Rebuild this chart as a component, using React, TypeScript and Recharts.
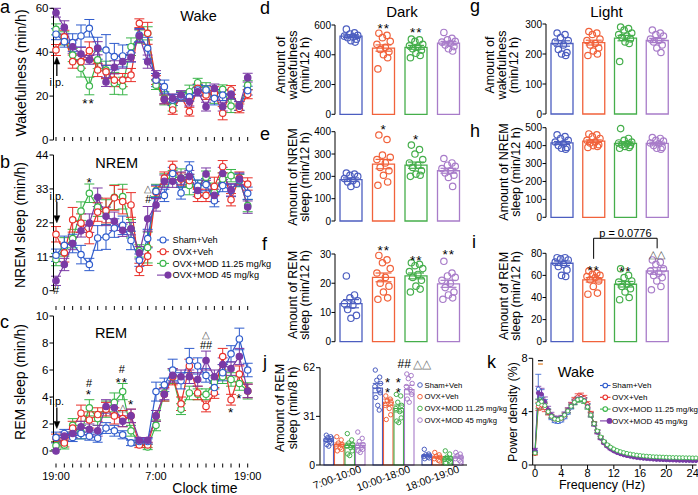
import React from 'react'
import {
  ComposedChart, Line, Bar, Scatter, XAxis, YAxis, ErrorBar,
  ReferenceArea, ReferenceDot, ReferenceLine,
} from 'recharts'

const FONT = '"Liberation Sans", Arial, Helvetica, sans-serif'

const GROUPS = ['Sham+Veh', 'OVX+Veh', 'OVX+MOD 11.25 mg/kg', 'OVX+MOD 45 mg/kg']
const LINE_COLORS = ['#2f5ccd', '#e8302a', '#3ab54a', '#7a3aa5']
const BAR_COLORS = ['#4c5ec0', '#f1623b', '#45ae4b', '#a87cc9']
const LINE_ORDER = [2, 1, 0, 3]

// ---- a-c: hourly time course (hour 0 = 19:00)
const HOURS = [0, 1, 2, 3, 4, 5, 6, 7, 8, 9, 10, 11, 12, 13, 14, 15, 16, 17, 18, 19, 20, 21, 22, 23]
const CLOCK_LABELS: Record<number, string> = { 0: '19:00', 12: '7:00', 23: '19:00' }

const WAKE_SHAM = [48.2, 44.8, 44.4, 47.4, 50.9, 41.8, 41, 38, 38.3, 39.5, 47.8, 41.8, 27.3, 24.3, 18.2, 19.7, 19.7, 22.8, 22.8, 19, 20.5, 20.8, 15.5, 22.5]
const WAKE_OVX = [41, 47, 35.7, 35.7, 40.7, 31.9, 31.1, 27.3, 27.3, 29.6, 53.2, 48.6, 27.3, 18.5, 13.7, 19.7, 12.9, 23.5, 20.5, 21.3, 12.2, 22.8, 14.4, 20.8]
const WAKE_MOD11 = [50.4, 46.3, 38.7, 32.7, 24.6, 36.5, 31.9, 25.8, 24.6, 42.5, 47.1, 48.6, 25, 19, 15.2, 20, 22, 26.1, 23.1, 19.7, 23.1, 15.5, 15.5, 25]
const WAKE_MOD45 = [58, 51.3, 42.5, 39.2, 36.5, 41.8, 26.4, 33.1, 35.7, 37.7, 47.4, 35.7, 29.6, 18.5, 19, 20.5, 17.5, 22, 15.2, 23.5, 15.2, 20.8, 15.5, 28.4]
const WAKE_SHAM_SEM = [2.5, 2.5, 4, 5, 4, 5, 7, 6, 5, 4, 3, 5, 3, 3, 2.5, 2, 2, 2.5, 2, 3, 2.5, 2, 2, 2]
const WAKE_OVX_SEM = [2.5, 3, 3, 3, 4, 3, 3, 3, 3, 3, 2, 5, 2, 2, 2, 2, 2, 2, 2, 3, 3, 2, 2, 2]
const WAKE_MOD11_SEM = [2.5, 3, 3, 4, 4, 4, 4, 5, 4, 4, 3, 3, 2, 3, 2, 2, 3, 2, 3, 3, 2, 3, 2, 2]
const WAKE_MOD45_SEM = [2, 3, 3, 3, 2, 3, 2, 3, 3, 2, 3, 3, 2, 2, 2, 2, 2, 2, 2, 2, 2, 2, 2, 2]

const NREM_SHAM = [11.5, 14.7, 15.3, 11.7, 8.5, 17.1, 17.4, 20.3, 21.2, 16.3, 9.9, 16.9, 32.2, 30.9, 38, 31.7, 39.8, 33.9, 34.4, 29.2, 34.1, 32.5, 35.9, 31.6]
const NREM_OVX = [18.3, 12.3, 23, 21.9, 18.2, 25.5, 26, 30.1, 28.9, 27.8, 6.9, 11.2, 31.9, 36.5, 40, 36.2, 35.7, 30.9, 30.9, 33.8, 40.2, 29.5, 36.5, 34.6]
const NREM_MOD11 = [10.1, 14.2, 16.9, 25.8, 31.6, 27.1, 25.5, 30.3, 30.5, 20.1, 12.9, 14, 32.5, 35.9, 37, 36.5, 34.1, 33.8, 36.8, 31.9, 36.2, 37.3, 35.7, 27.6]
const NREM_MOD45 = [3.2, 8.5, 15.3, 19.4, 21.9, 30.3, 24.1, 22.5, 19.6, 20.1, 12.3, 23.3, 27.8, 35.5, 35.5, 36.5, 37, 32.5, 37.8, 30.9, 38, 32.7, 36.2, 27.1]
const NREM_SHAM_SEM = [2, 3, 3, 3, 2, 4, 4, 3, 3, 3, 2, 3, 2, 2, 2, 2, 2, 2, 2, 2, 2, 2, 2, 2]
const NREM_OVX_SEM = [2.5, 3, 4, 3, 3, 3, 4, 4, 4, 4, 2, 3, 2, 2, 2, 2, 2, 2, 2, 3, 2, 2, 2, 2]
const NREM_MOD11_SEM = [2, 3, 3, 3, 3, 3, 4, 4, 4, 3, 2, 5, 2, 2, 2, 3, 3, 2, 2, 3, 2, 2, 2, 2]
const NREM_MOD45_SEM = [1.5, 2, 2, 2, 3, 3, 3, 3, 2, 2, 2, 4, 2, 2, 2, 2, 2, 2, 2, 2, 2, 2, 2, 2]

const REM_SHAM = [1.0, 1.3, 1.0, 1.3, 1.1, 0.95, 1.7, 1.5, 1.2, 0.6, 0.7, 0.7, 4.4, 4.9, 6.0, 5.2, 6.7, 6.3, 5.6, 4.7, 5.8, 7.2, 8.3, 6.0]
const REM_OVX = [0.95, 0.6, 1.7, 2.8, 2.3, 2.7, 3.1, 2.6, 2.4, 2.6, 0.45, 0.45, 2.6, 4.2, 5.5, 3.5, 6.3, 4.3, 3.3, 4.3, 7.0, 3.8, 5.7, 4.45]
const REM_MOD11 = [0.4, 0.45, 1.9, 1.4, 3.2, 2.4, 3.1, 3.6, 4.4, 1.5, 0.6, 0.3, 1.9, 4.3, 5.5, 3.1, 4.3, 4.2, 4.2, 5.1, 5.5, 5.3, 5.0, 4.45]
const REM_MOD45 = [0, 1.1, 1.3, 1.8, 1.6, 1.5, 3.3, 3.2, 2.2, 2.6, 0.8, 0.8, 2.6, 4.2, 5.6, 5.5, 5.5, 5.3, 6.7, 5.5, 6.4, 6.1, 7.0, 4.45]
const REM_SHAM_SEM = [0.4, 0.3, 0.3, 0.4, 0.3, 0.3, 0.4, 0.4, 0.3, 0.2, 0.2, 0.2, 0.7, 0.5, 0.8, 0.6, 0.9, 0.6, 0.5, 0.5, 0.6, 0.6, 0.8, 0.5]
const REM_OVX_SEM = [0.3, 0.3, 0.5, 0.6, 0.6, 0.5, 0.5, 0.6, 0.6, 0.5, 0.2, 0.2, 0.4, 0.5, 0.6, 0.5, 0.5, 0.5, 0.4, 0.4, 0.6, 0.4, 0.6, 0.5]
const REM_MOD11_SEM = [0.3, 0.3, 0.5, 0.5, 0.6, 0.5, 0.6, 0.7, 0.6, 0.4, 0.2, 0.2, 0.4, 0.6, 0.5, 0.4, 0.5, 0.4, 0.4, 0.5, 0.5, 0.5, 0.5, 0.6]
const REM_MOD45_SEM = [0, 0.3, 0.3, 0.4, 0.4, 0.4, 0.5, 0.5, 0.4, 0.5, 0.2, 0.2, 0.4, 0.4, 0.5, 0.5, 0.5, 0.5, 0.7, 0.5, 0.5, 0.5, 0.6, 0.5]

type NoteT = { x: number; y: number; t: string; arrow?: 'up' | 'down'; color?: string; size?: number }

const WAKE_NOTES: NoteT[] = [
  { x: 3.9, y: 18.2, t: '**' },
  { x: 0.1, y: 26.4, t: 'i.p.', arrow: 'up' },
]
const NREM_NOTES: NoteT[] = [
  { x: 4.05, y: 36.2, t: '*' },
  { x: 11.08, y: 33.2, t: '△', color: '#555', size: 10 },
  { x: 11.08, y: 29.6, t: '#' },
  { x: 0, y: 0.3, t: '#' },
  { x: 0.1, y: 30.8, t: 'i.p.', arrow: 'down' },
]
const REM_NOTES: NoteT[] = [
  { x: 3.96, y: 5.07, t: '#' },
  { x: 3.96, y: 4.4, t: '*' },
  { x: 7.9, y: 6.1, t: '#' },
  { x: 7.9, y: 5.3, t: '**' },
  { x: 8.0, y: 3.2, t: '△', color: '#555', size: 10 },
  { x: 9.0, y: 3.67, t: '*' },
  { x: 18.0, y: 8.65, t: '△', color: '#555', size: 10 },
  { x: 18.0, y: 7.85, t: '##' },
  { x: 21.0, y: 3.07, t: '*' },
  { x: 22.0, y: 4.1, t: '*' },
  { x: 0.1, y: 3.67, t: 'i.p.', arrow: 'down' },
]

// ---- d-i: 12 h totals (bar = mean, dots = animals)
const D_MEAN = [525, 445, 450, 478]
const D_SEM = [9, 21, 13, 12]
const D_DOTS = [
  [572, 548, 540, 530, 525, 520, 515, 505, 495, 485],
  [545, 530, 515, 490, 470, 450, 435, 420, 400, 380, 305],
  [505, 500, 490, 470, 460, 450, 440, 430, 410, 395, 380],
  [550, 510, 500, 490, 485, 475, 465, 455, 440, 425],
]
const D_NOTES: NoteT[] = [{ x: 1, y: 598, t: '**' }, { x: 2, y: 570, t: '**' }]

const E_MEAN = [185, 255, 250, 225]
const E_SEM = [8, 21, 14, 11]
const E_DOTS = [
  [215, 210, 205, 200, 190, 180, 175, 165, 155],
  [385, 365, 295, 285, 275, 260, 240, 225, 205, 175, 160],
  [340, 320, 300, 275, 260, 250, 240, 225, 210, 205, 200],
  [280, 260, 250, 245, 235, 225, 215, 205, 195, 155],
]
const E_NOTES: NoteT[] = [{ x: 1, y: 423, t: '*' }, { x: 2, y: 380, t: '*' }]

const F_MEAN = [13, 22, 22.5, 19.8]
const F_SEM = [1.4, 1.5, 1.0, 1.2]
const F_DOTS = [
  [22.5, 16, 15, 14, 13, 12.5, 11, 9, 8],
  [29.5, 28, 27, 25, 23.5, 22, 20, 19, 17, 15, 14.5],
  [27, 26.5, 26, 25, 24, 23, 22, 21, 19, 18, 17],
  [27.5, 23.5, 22.5, 22, 21, 20, 18.5, 17, 16, 15, 14.5],
]
const F_NOTES: NoteT[] = [{ x: 1, y: 32.3, t: '**' }, { x: 2, y: 28.9, t: '**' }, { x: 3, y: 30.8, t: '**' }]

const G_MEAN = [235, 238, 253, 245]
const G_SEM = [9, 8, 9, 7]
const G_DOTS = [
  [270, 265, 255, 245, 240, 230, 215, 205, 200, 195],
  [275, 270, 265, 250, 245, 235, 230, 220, 210, 200, 195],
  [290, 285, 280, 270, 265, 260, 255, 250, 240, 235, 175],
  [280, 270, 265, 260, 250, 245, 240, 230, 220, 205],
]

const H_MEAN = [415, 425, 412, 412]
const H_SEM = [8, 7, 9, 7]
const H_DOTS = [
  [460, 450, 440, 430, 420, 410, 400, 390, 385, 380],
  [465, 460, 450, 440, 430, 420, 415, 405, 400, 395, 390],
  [495, 440, 430, 420, 415, 410, 405, 400, 395, 390, 385],
  [445, 440, 430, 425, 415, 410, 400, 390, 385, 380],
]

const I_MEAN = [71, 56, 52, 64]
const I_SEM = [2, 2, 2.5, 3]
const I_DOTS = [
  [76, 76, 75, 74, 72, 70, 68, 65, 60, 59],
  [64, 62, 61, 60, 59, 58, 56, 55, 50, 44, 43],
  [66, 60, 58, 55, 54, 52, 50, 48, 45, 40, 38],
  [74, 72, 70, 66, 64, 62, 60, 58, 55, 50, 47],
]
const I_NOTES: NoteT[] = [
  { x: 1, y: 67.8, t: '**' },
  { x: 2, y: 66.7, t: '**' },
  { x: 3, y: 79.4, t: '△△', color: '#555' },
  { x: 2, y: 98.6, t: 'p = 0.0776' },
]
const I_BRACKET = { from: 1, to: 3, top: 93.6, fromLow: 75, toLow: 84.5 }

// horizontal spread of animal dots inside a bar (category units)
const JITTER = [-0.15, 0.1, -0.04, 0.2, -0.21, 0.05, -0.11, 0.16, -0.01, 0.12, -0.18]

// ---- j: REM by light-phase window
const J_CATS = ['7:00-10:00', '10:00-18:00', '18:00-19:00']
const J_MEAN_SHAM = [16, 49, 6]
const J_MEAN_OVX = [13, 40, 5]
const J_MEAN_MOD11 = [12.5, 36, 4.5]
const J_MEAN_MOD45 = [12.5, 48, 5]
const J_SEM_SHAM = [1.0, 3.0, 0.6]
const J_SEM_OVX = [1.0, 2.0, 0.6]
const J_SEM_MOD11 = [1.4, 2.2, 0.9]
const J_SEM_MOD45 = [1.4, 2.8, 0.7]
const J_DOTS_SHAM = [[19, 18, 17.5, 17, 16, 15, 14, 13, 12], [60.5, 56, 54, 52, 50, 48, 46, 43, 38, 35], [10, 7, 6.5, 6, 5.5, 5, 4.5, 4]]
const J_DOTS_OVX = [[18, 16, 14, 13, 12, 11, 10, 9], [44, 42, 41, 40, 38, 36, 32, 29], [8, 6.5, 5.5, 5, 4, 3, 2.5]]
const J_DOTS_MOD11 = [[20, 16, 14, 13, 12, 11, 9, 7, 6], [45, 44, 40, 38, 36, 34, 30, 28, 27], [9, 7, 5, 4, 3.5, 3, 2, 1.5]]
const J_DOTS_MOD45 = [[21, 17, 15, 13, 12, 11, 10, 9, 8], [58, 57, 55, 52, 50, 48, 45, 42, 40], [8, 7, 6, 5, 4, 3, 2]]
const J_JITTER = [-0.05, 0.04, -0.02, 0.06, -0.06, 0.02, 0.05, -0.04, 0, 0.03]
const J_NOTES: NoteT[] = [
  { x: 0.89, y: 54.5, t: '*', size: 13 },
  { x: 0.89, y: 47.9, t: '*', size: 13 },
  { x: 1.11, y: 54.5, t: '*', size: 13 },
  { x: 1.11, y: 47.9, t: '*', size: 13 },
  { x: 1.22, y: 64.4, t: '##', size: 12 },
  { x: 1.59, y: 64.4, t: '△△', color: '#777', size: 12 },
]
const J_BAR = 9.5
const J_GAP = 1
const J_BAND = 49

// ---- k: wake EEG power spectrum
const F_HZ = [0, 0.5, 1, 1.5, 2, 2.5, 3, 3.5, 4, 4.5, 5, 5.5, 6, 6.5, 7, 7.5, 8, 8.5, 9, 9.5, 10, 10.5, 11, 11.5, 12, 12.5, 13, 13.5, 14, 14.5, 15, 15.5, 16, 16.5, 17, 17.5, 18, 18.5, 19, 19.5, 20, 20.5, 21, 21.5, 22, 22.5, 23, 23.5, 24, 24.5]
const PSD_SHAM = [1.0, 5.7, 5.2, 4.6, 4.0, 3.55, 3.3, 3.25, 3.35, 3.6, 3.95, 4.35, 4.7, 4.95, 5.05, 4.9, 4.45, 3.8, 3.1, 2.5, 2.05, 1.7, 1.45, 1.25, 1.1, 0.98, 0.88, 0.8, 0.74, 0.69, 0.64, 0.6, 0.57, 0.54, 0.52, 0.5, 0.48, 0.46, 0.45, 0.44, 0.43, 0.42, 0.41, 0.4, 0.39, 0.38, 0.38, 0.37, 0.36, 0.36]
const PSD_OVX = [0.85, 4.4, 4.5, 4.3, 3.95, 3.65, 3.45, 3.4, 3.5, 3.75, 4.1, 4.5, 4.85, 5.1, 5.15, 5.0, 4.55, 3.85, 3.1, 2.5, 2.05, 1.7, 1.45, 1.27, 1.12, 1.0, 0.91, 0.84, 0.78, 0.73, 0.69, 0.65, 0.62, 0.6, 0.58, 0.56, 0.54, 0.53, 0.52, 0.51, 0.5, 0.49, 0.48, 0.47, 0.46, 0.46, 0.45, 0.45, 0.44, 0.44]
const PSD_MOD11 = [0.9, 4.6, 4.75, 4.45, 4.0, 3.65, 3.45, 3.4, 3.5, 3.75, 4.05, 4.4, 4.7, 4.9, 4.95, 4.8, 4.35, 3.75, 3.1, 2.55, 2.1, 1.77, 1.52, 1.34, 1.2, 1.09, 1.0, 0.93, 0.87, 0.82, 0.78, 0.74, 0.71, 0.68, 0.66, 0.64, 0.62, 0.61, 0.6, 0.59, 0.58, 0.57, 0.56, 0.56, 0.55, 0.55, 0.54, 0.54, 0.53, 0.53]
const PSD_MOD45 = [1.1, 5.4, 5.3, 4.75, 4.15, 3.75, 3.5, 3.45, 3.55, 3.8, 4.1, 4.45, 4.75, 4.95, 5.0, 4.85, 4.4, 3.75, 3.05, 2.45, 2.0, 1.65, 1.4, 1.2, 1.05, 0.93, 0.84, 0.76, 0.7, 0.65, 0.6, 0.56, 0.53, 0.5, 0.48, 0.46, 0.44, 0.42, 0.41, 0.4, 0.39, 0.38, 0.37, 0.36, 0.35, 0.35, 0.34, 0.34, 0.33, 0.33]
const PSD_SHAM_SEM = [0.1, 1.1, 0.45, 0.3, 0.2, 0.15, 0.12, 0.12, 0.12, 0.13, 0.14, 0.15, 0.16, 0.17, 0.17, 0.16, 0.15, 0.14, 0.12, 0.1, 0.08, 0.07, 0.06, 0.05, 0.05, 0.04, 0.04, 0.04, 0.03, 0.03, 0.03, 0.03, 0.03, 0.03, 0.03, 0.03, 0.03, 0.03, 0.03, 0.03, 0.03, 0.03, 0.03, 0.03, 0.03, 0.03, 0.03, 0.03, 0.03, 0.03]
const PSD_OVX_SEM = [0.1, 0.3, 0.35, 0.3, 0.2, 0.15, 0.13, 0.13, 0.14, 0.15, 0.17, 0.2, 0.22, 0.24, 0.24, 0.22, 0.2, 0.17, 0.14, 0.12, 0.1, 0.08, 0.07, 0.06, 0.05, 0.05, 0.04, 0.04, 0.04, 0.04, 0.04, 0.04, 0.04, 0.04, 0.04, 0.04, 0.04, 0.04, 0.04, 0.04, 0.04, 0.04, 0.04, 0.04, 0.04, 0.04, 0.04, 0.04, 0.04, 0.04]
const PSD_MOD11_SEM = [0.1, 0.35, 0.3, 0.25, 0.18, 0.14, 0.12, 0.12, 0.12, 0.13, 0.15, 0.17, 0.19, 0.2, 0.2, 0.19, 0.17, 0.15, 0.13, 0.11, 0.09, 0.08, 0.07, 0.06, 0.05, 0.05, 0.05, 0.05, 0.04, 0.04, 0.04, 0.04, 0.04, 0.04, 0.04, 0.04, 0.04, 0.04, 0.04, 0.04, 0.04, 0.04, 0.04, 0.04, 0.04, 0.04, 0.04, 0.04, 0.04, 0.04]
const PSD_MOD45_SEM = [0.15, 0.5, 0.45, 0.35, 0.25, 0.2, 0.18, 0.17, 0.17, 0.18, 0.19, 0.2, 0.2, 0.2, 0.2, 0.19, 0.18, 0.16, 0.14, 0.12, 0.1, 0.08, 0.07, 0.06, 0.05, 0.05, 0.04, 0.04, 0.04, 0.04, 0.03, 0.03, 0.03, 0.03, 0.03, 0.03, 0.03, 0.03, 0.03, 0.03, 0.03, 0.03, 0.03, 0.03, 0.03, 0.03, 0.03, 0.03, 0.03, 0.03]
const K_TICKS = [0, 4, 8, 12, 16, 20, 24]
const K_ORDER = [0, 1, 3, 2]
const K_SIG = [
  { from: 0.45, to: 1.2, y: 7.82, color: '#000' },
  { from: 0.45, to: 1.2, y: 7.57, color: '#e07b20' },
]

const TICK = { fill: '#000', fontFamily: FONT }

function NoteMark({ cx, cy, n }: { cx: number; cy: number; n: NoteT }) {
  const star = n.t.includes('*')
  const size = n.size ?? (star ? 13.5 : 11)
  return (
    <g>
      <text x={cx} y={cy} dy={star ? '0.58em' : '0.36em'} textAnchor="middle" fontSize={size}
        fontFamily={FONT} fill={n.color ?? '#000'} letterSpacing={star ? 1 : 0}>{n.t}</text>
      {n.arrow === 'up' && (
        <g stroke="#000" fill="#000">
          <line x1={cx} x2={cx} y1={cy - 6} y2={cy - 19} strokeWidth={1.3} />
          <polygon points={`${cx},${cy - 25} ${cx - 3},${cy - 18} ${cx + 3},${cy - 18}`} strokeWidth={0.5} />
        </g>
      )}
      {n.arrow === 'down' && (
        <g stroke="#000" fill="#000">
          <line x1={cx} x2={cx} y1={cy + 6} y2={cy + 20} strokeWidth={1.3} />
          <polygon points={`${cx},${cy + 27} ${cx - 3},${cy + 20} ${cx + 3},${cy + 20}`} strokeWidth={0.5} />
        </g>
      )}
    </g>
  )
}

function notesOf(notes: NoteT[], xAxisId?: string) {
  return notes.map((n, i) => (
    <ReferenceDot key={'n' + i} x={n.x} y={n.y} r={1} ifOverflow="visible"
      {...(xAxisId ? { xAxisId } : {})}
      shape={(p: any) => <NoteMark cx={p.cx} cy={p.cy} n={n} />} />
  ))
}

function HourlyPanel(props: {
  top: number; height: number; plotTop: number; plotBottom: number
  series: number[][]; sems: number[][]; max: number; ticks: number[]; notes: NoteT[]
}) {
  const { top, height, plotTop, plotBottom, series, sems, max, ticks, notes } = props
  const data = HOURS.map((h, i) => {
    const row: Record<string, number> = { h }
    series.forEach((s, k) => {
      row['s' + k] = s[i]
      row['e' + k] = sems[k][i]
    })
    return row
  })
  return (
    <div style={{ position: 'absolute', left: 0, top }}>
      <ComposedChart width={260} height={height} data={data}
        margin={{ top: plotTop - top, right: 12.3, bottom: top + height - plotBottom, left: 0 }}>
        <XAxis dataKey="h" type="number" domain={[-0.3, 23]} hide />
        <YAxis type="number" domain={[0, max]} ticks={ticks} interval={0} width={53.5}
          tickSize={4} tickMargin={1} stroke="#000" tick={{ ...TICK, fontSize: 11.5 }} />
        {LINE_ORDER.map(k => (
          <Line key={k} dataKey={'s' + k} type="linear" stroke={LINE_COLORS[k]} strokeWidth={1.2}
            dot={{ r: 3.2, fill: k === 3 ? LINE_COLORS[3] : '#fff', stroke: LINE_COLORS[k], strokeWidth: 1.2 }}
            isAnimationActive={false}>
            <ErrorBar dataKey={'e' + k} width={5} stroke={LINE_COLORS[k]} strokeWidth={1} direction="y" />
          </Line>
        ))}
        {notesOf(notes)}
      </ComposedChart>
    </div>
  )
}

function TimeBar({ top, height, plotTop, labelled }: { top: number; height: number; plotTop: number; labelled?: boolean }) {
  const data = HOURS.map(h => ({ h }))
  return (
    <div style={{ position: 'absolute', left: 0, top }}>
      <ComposedChart width={280} height={height} data={data}
        margin={{ top: plotTop - top, right: 32.3, bottom: 0, left: 53.5 }}>
        <XAxis dataKey="h" type="number" domain={[-0.3, 23]} ticks={HOURS} interval={0} axisLine={false}
          tickSize={4} tickMargin={5} height={labelled ? 20 : 5} tickLine={{ stroke: '#000' }}
          tick={{ ...TICK, fontSize: 11 }}
          tickFormatter={(v: number) => (labelled ? CLOCK_LABELS[v] ?? '' : '')} />
        <YAxis hide domain={[0, 1]} />
        <ReferenceArea x1={0} x2={12} y1={0} y2={1} fill="#1d1515" fillOpacity={1} stroke="#000" strokeWidth={1} />
        <ReferenceArea x1={12} x2={23} y1={0} y2={1} fill="#fff" fillOpacity={1} stroke="#000" strokeWidth={1} />
      </ComposedChart>
    </div>
  )
}

function DotBarPanel(props: {
  left: number; top: number; width: number; height: number
  plotLeft: number; plotRight: number; plotTop: number; plotBottom: number
  means: number[]; sems: number[]; dots: number[][]; max: number; ticks: number[]
  notes?: NoteT[]; bracket?: typeof I_BRACKET
}) {
  const { left, top, width, height, plotLeft, plotRight, plotTop, plotBottom, means, sems, dots, max, ticks, notes, bracket } = props
  const data = GROUPS.map((name, i) => {
    const row: Record<string, number | string> = { name }
    row['v' + i] = means[i]
    row['e' + i] = sems[i]
    return row
  })
  return (
    <div style={{ position: 'absolute', left, top }}>
      <ComposedChart width={width} height={height} data={data} barSize={22}
        margin={{ top: plotTop - top, right: left + width - plotRight, bottom: top + height - plotBottom, left: 0 }}>
        <XAxis xAxisId="c" dataKey="name" type="category" tick={false} tickLine={false} height={0} stroke="#000" />
        <XAxis xAxisId="n" dataKey="x" type="number" domain={[-0.5, 3.5]} height={0}
          axisLine={false} tickLine={false} tick={false} />
        <YAxis type="number" domain={[0, max]} ticks={ticks} interval={0} width={plotLeft - left}
          tickSize={3.5} tickMargin={0.5} stroke="#000" tick={{ ...TICK, fontSize: 10 }} />
        {GROUPS.map((_, i) => (
          <Bar key={i} xAxisId="c" dataKey={'v' + i} stackId="m" fill="#fff" stroke={BAR_COLORS[i]}
            strokeWidth={1.3} isAnimationActive={false}>
            <ErrorBar dataKey={'e' + i} width={8} stroke={BAR_COLORS[i]} strokeWidth={1.2} direction="y" />
          </Bar>
        ))}
        {dots.map((vals, i) => (
          <Scatter key={'d' + i} xAxisId="n" dataKey="y" isAnimationActive={false}
            data={vals.map((y, j) => ({ x: i + JITTER[j % JITTER.length], y }))}
            shape={(p: any) => <circle cx={p.cx} cy={p.cy} r={3.2} fill="none" stroke={BAR_COLORS[i]} strokeWidth={1.2} />} />
        ))}
        {bracket && [
          <ReferenceLine key="b1" xAxisId="n" ifOverflow="visible" stroke="#000" strokeWidth={1}
            segment={[{ x: bracket.from, y: bracket.fromLow }, { x: bracket.from, y: bracket.top }]} />,
          <ReferenceLine key="b2" xAxisId="n" ifOverflow="visible" stroke="#000" strokeWidth={1}
            segment={[{ x: bracket.from, y: bracket.top }, { x: bracket.to, y: bracket.top }]} />,
          <ReferenceLine key="b3" xAxisId="n" ifOverflow="visible" stroke="#000" strokeWidth={1}
            segment={[{ x: bracket.to, y: bracket.top }, { x: bracket.to, y: bracket.toLow }]} />,
        ]}
        {notes && notesOf(notes, 'n')}
      </ComposedChart>
    </div>
  )
}

function WindowPanel() {
  const means = [J_MEAN_SHAM, J_MEAN_OVX, J_MEAN_MOD11, J_MEAN_MOD45]
  const sems = [J_SEM_SHAM, J_SEM_OVX, J_SEM_MOD11, J_SEM_MOD45]
  const dots = [J_DOTS_SHAM, J_DOTS_OVX, J_DOTS_MOD11, J_DOTS_MOD45]
  const data = J_CATS.map((name, c) => {
    const row: Record<string, number | string> = { name }
    means.forEach((m, i) => {
      row['s' + i] = m[c]
      row['e' + i] = sems[i][c]
    })
    return row
  })
  const step = (J_BAR + J_GAP) / J_BAND
  return (
    <div style={{ position: 'absolute', left: 295, top: 350 }}>
      <ComposedChart width={180} height={145} data={data} barSize={J_BAR} barGap={J_GAP}
        margin={{ top: 17.7, right: 8, bottom: 0, left: 0 }}>
        <XAxis xAxisId="c" dataKey="name" type="category" interval={0} tickLine={false} tickSize={2} tickMargin={0}
          height={30} stroke="#000" angle={-20} textAnchor="end"
          tick={{ ...TICK, fontSize: 10.5, dx: 15, dy: -2 }} />
        <XAxis xAxisId="n" dataKey="x" type="number" domain={[-0.5, 2.5]} height={0}
          axisLine={false} tickLine={false} tick={false} />
        <YAxis type="number" domain={[0, 62]} ticks={[0, 31, 62]} interval={0} width={25}
          tickSize={4} tickMargin={1} stroke="#000" tick={{ ...TICK, fontSize: 10.5 }} />
        {GROUPS.map((_, i) => (
          <Bar key={i} xAxisId="c" dataKey={'s' + i} fill="#fff" stroke={BAR_COLORS[i]} strokeWidth={1.1}
            isAnimationActive={false}>
            <ErrorBar dataKey={'e' + i} width={5} stroke={BAR_COLORS[i]} strokeWidth={1} direction="y" />
          </Bar>
        ))}
        {dots.map((byCat, i) => (
          <Scatter key={'d' + i} xAxisId="n" dataKey="y" isAnimationActive={false}
            data={byCat.flatMap((vals, c) => vals.map((y, j) => ({ x: c + (i - 1.5) * step + J_JITTER[j % J_JITTER.length], y })))}
            shape={(p: any) => <circle cx={p.cx} cy={p.cy} r={2.2} fill="none" stroke={BAR_COLORS[i]} strokeWidth={1} />} />
        ))}
        {notesOf(J_NOTES, 'n')}
      </ComposedChart>
    </div>
  )
}

function SpectrumPanel() {
  const series = [PSD_SHAM, PSD_OVX, PSD_MOD11, PSD_MOD45]
  const sems = [PSD_SHAM_SEM, PSD_OVX_SEM, PSD_MOD11_SEM, PSD_MOD45_SEM]
  const data = F_HZ.map((f, i) => {
    const row: Record<string, number> = { f }
    series.forEach((s, k) => {
      row['s' + k] = s[i]
      row['e' + k] = sems[k][i]
    })
    return row
  })
  return (
    <div style={{ position: 'absolute', left: 470, top: 340 }}>
      <ComposedChart width={228} height={155} data={data} margin={{ top: 18.3, right: 1.4, bottom: 0, left: 0 }}>
        <XAxis dataKey="f" type="number" domain={[-0.35, 24.6]} ticks={K_TICKS} interval={0} height={30}
          tickSize={4} tickMargin={0} stroke="#000" tick={{ ...TICK, fontSize: 11 }} />
        <YAxis type="number" domain={[0, 8]} ticks={[0, 4, 8]} interval={0} width={62.7}
          tickSize={4} tickMargin={1} stroke="#000" tick={{ ...TICK, fontSize: 11 }} />
        {K_ORDER.map(k => (
          <Line key={k} dataKey={'s' + k} type="linear" stroke={LINE_COLORS[k]} strokeWidth={1}
            dot={{ r: 2, fill: k === 3 ? LINE_COLORS[3] : '#fff', stroke: LINE_COLORS[k], strokeWidth: 0.9 }}
            isAnimationActive={false}>
            <ErrorBar dataKey={'e' + k} width={3} stroke={LINE_COLORS[k]} strokeWidth={0.8} direction="y" />
          </Line>
        ))}
        {K_SIG.map((m, i) => (
          <ReferenceLine key={i} ifOverflow="visible" stroke={m.color} strokeWidth={1.2}
            segment={[{ x: m.from, y: m.y }, { x: m.to, y: m.y }]} />
        ))}
      </ComposedChart>
    </div>
  )
}

function VText({ x, cy, lines, size }: { x: number[]; cy: number; lines: string[]; size: number }) {
  return (
    <>
      {lines.map((l, i) => (
        <text key={i} transform={`translate(${x[i]},${cy}) rotate(-90)`} textAnchor="middle"
          dominantBaseline="central" fontSize={size} fill="#000">{l}</text>
      ))}
    </>
  )
}

function LineLegend({ x, y, gap, size, r, len, textX }: { x: number; y: number; gap: number; size: number; r: number; len: number; textX: number }) {
  return (
    <>
      {GROUPS.map((g, i) => {
        const yy = y + i * gap
        const filled = i === 3
        const c = LINE_COLORS[i]
        return (
          <g key={i}>
            <line x1={x} x2={x + len} y1={yy} y2={yy} stroke={c} strokeWidth={1.1} />
            <circle cx={filled ? x + len - 1 : x + len / 2} cy={yy} r={r} fill={filled ? c : '#fff'} stroke={c} strokeWidth={1.1} />
            <text x={textX} y={yy} dy="0.35em" fontSize={size} fill="#000">{g}</text>
          </g>
        )
      })}
    </>
  )
}

const LETTERS: [string, number, number][] = [
  ['a', 0, 12.5], ['b', 0, 168], ['c', 0, 328], ['d', 260, 13.5], ['e', 260, 140], ['f', 262, 250],
  ['g', 470, 12], ['h', 470, 137], ['i', 472, 248], ['j', 263, 368], ['k', 487, 368],
]

export default function App() {
  return (
    <div style={{ position: 'absolute', left: 0, top: 0, width: 698, height: 495, background: '#fff', overflow: 'hidden', fontFamily: FONT }}>
      <HourlyPanel top={0} height={150} plotTop={8.3} plotBottom={140} max={60} ticks={[0, 20, 40, 60]}
        series={[WAKE_SHAM, WAKE_OVX, WAKE_MOD11, WAKE_MOD45]}
        sems={[WAKE_SHAM_SEM, WAKE_OVX_SEM, WAKE_MOD11_SEM, WAKE_MOD45_SEM]} notes={WAKE_NOTES} />
      <TimeBar top={125} height={17} plotTop={128} />
      <HourlyPanel top={148} height={156} plotTop={155} plotBottom={290.7} max={44} ticks={[0, 11, 22, 33, 44]}
        series={[NREM_SHAM, NREM_OVX, NREM_MOD11, NREM_MOD45]}
        sems={[NREM_SHAM_SEM, NREM_OVX_SEM, NREM_MOD11_SEM, NREM_MOD45_SEM]} notes={NREM_NOTES} />
      <TimeBar top={294} height={17} plotTop={297} />
      <HourlyPanel top={306} height={158} plotTop={316} plotBottom={451} max={10} ticks={[0, 2, 4, 6, 8, 10]}
        series={[REM_SHAM, REM_OVX, REM_MOD11, REM_MOD45]}
        sems={[REM_SHAM_SEM, REM_OVX_SEM, REM_MOD11_SEM, REM_MOD45_SEM]} notes={REM_NOTES} />
      <TimeBar top={452} height={31.5} plotTop={455} labelled />

      <DotBarPanel left={305} top={8} width={165} height={112} plotLeft={335} plotRight={465} plotTop={25} plotBottom={114.3}
        means={D_MEAN} sems={D_SEM} dots={D_DOTS} max={600} ticks={[0, 200, 400, 600]} notes={D_NOTES} />
      <DotBarPanel left={305} top={118} width={165} height={110} plotLeft={335} plotRight={465} plotTop={131.7} plotBottom={221}
        means={E_MEAN} sems={E_SEM} dots={E_DOTS} max={400} ticks={[0, 100, 200, 300, 400]} notes={E_NOTES} />
      <DotBarPanel left={305} top={235} width={165} height={112} plotLeft={335} plotRight={465} plotTop={254} plotBottom={341.7}
        means={F_MEAN} sems={F_SEM} dots={F_DOTS} max={30} ticks={[0, 10, 20, 30]} notes={F_NOTES} />
      <DotBarPanel left={515} top={8} width={165} height={112} plotLeft={546} plotRight={673} plotTop={24} plotBottom={114}
        means={G_MEAN} sems={G_SEM} dots={G_DOTS} max={300} ticks={[0, 100, 200, 300]} />
      <DotBarPanel left={515} top={118} width={165} height={106} plotLeft={546} plotRight={673} plotTop={127.7} plotBottom={217.3}
        means={H_MEAN} sems={H_SEM} dots={H_DOTS} max={500} ticks={[0, 100, 200, 300, 400, 500]} />
      <DotBarPanel left={515} top={222} width={165} height={125} plotLeft={546} plotRight={673} plotTop={253.3} plotBottom={341.7}
        means={I_MEAN} sems={I_SEM} dots={I_DOTS} max={80} ticks={[0, 20, 40, 60, 80]} notes={I_NOTES} bracket={I_BRACKET} />

      <WindowPanel />
      <SpectrumPanel />

      <svg width={698} height={495} style={{ position: 'absolute', left: 0, top: 0, pointerEvents: 'none', fontFamily: FONT }}>
        {LETTERS.map(([l, x, y]) => (
          <text key={l} x={x} y={y} fontSize={18} fill="#000">{l}</text>
        ))}
        <text x={198.5} y={20.5} textAnchor="middle" fontSize={14.5}>Wake</text>
        <text x={116.7} y={168.3} textAnchor="middle" fontSize={14.5}>NREM</text>
        <text x={111} y={338} textAnchor="middle" fontSize={14.5}>REM</text>
        <text x={402} y={17} textAnchor="middle" fontSize={15}>Dark</text>
        <text x={606.5} y={17} textAnchor="middle" fontSize={15}>Light</text>
        <text x={576} y={376.7} textAnchor="middle" fontSize={14.5}>Wake</text>
        <text x={205} y={493} textAnchor="middle" fontSize={14}>Clock time</text>
        <text x={602} y={489} textAnchor="middle" fontSize={12.5}>Frequency (Hz)</text>

        <VText x={[20.5]} cy={73} lines={['Wakefulness (min/h)']} size={14} />
        <VText x={[20]} cy={225} lines={['NREM sleep (min/h)']} size={14} />
        <VText x={[20]} cy={382} lines={['REM sleep (min/h)']} size={14} />
        <VText x={[281, 293, 305]} cy={65} lines={['Amount of', 'wakefulness', '(min/12 h)']} size={12.5} />
        <VText x={[293, 305]} cy={177} lines={['Amount of NREM', 'sleep (min/12 h)']} size={12.5} />
        <VText x={[293, 305]} cy={295} lines={['Amount of REM', 'sleep (min/12 h)']} size={12.5} />
        <VText x={[490, 502, 514]} cy={65} lines={['Amount of', 'wakefulness', '(min/12 h)']} size={12.5} />
        <VText x={[504, 516]} cy={172} lines={['Amount of NREM', 'sleep (min/12 h)']} size={12.5} />
        <VText x={[504, 516]} cy={296} lines={['Amount of REM', 'sleep (min/12 h)']} size={12.5} />
        <VText x={[280, 293]} cy={408} lines={['Amount of REM', 'sleep (min/8 h)']} size={12.5} />
        <VText x={[513]} cy={412} lines={['Power density (%)']} size={12.3} />

        <LineLegend x={157} y={240} gap={11.7} size={9.2} r={3} len={12} textX={172.5} />
        <LineLegend x={600} y={385.5} gap={11.8} size={8} r={2.3} len={10.5} textX={612} />
        {GROUPS.map((g, i) => (
          <g key={'jl' + i}>
            <circle cx={420} cy={385 + i * 11.7} r={2.3} fill="#fff" stroke={BAR_COLORS[i]} strokeWidth={1} />
            <text x={424.5} y={385 + i * 11.7} dy="0.35em" fontSize={7.7} fill="#000">{g}</text>
          </g>
        ))}
      </svg>
    </div>
  )
}
